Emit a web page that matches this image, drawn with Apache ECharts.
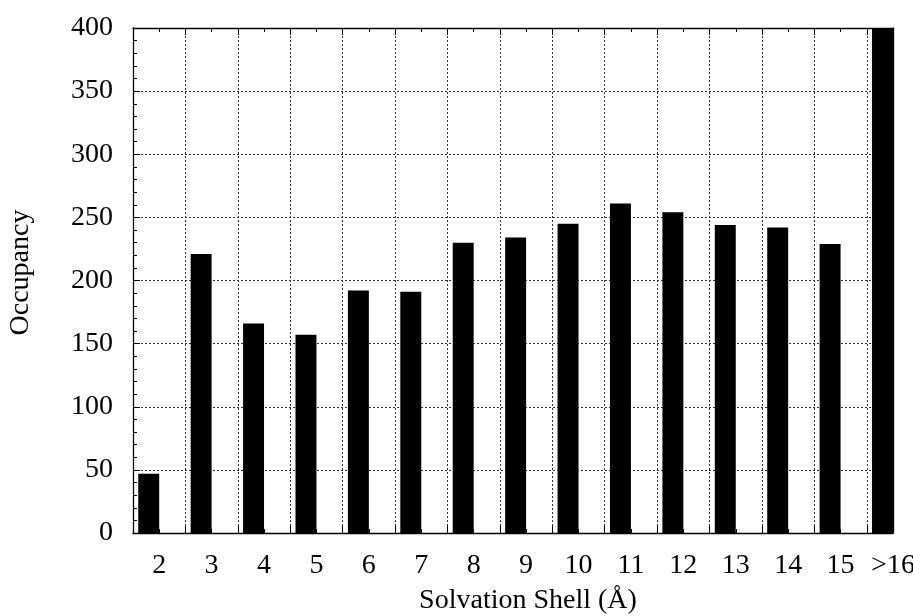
<!DOCTYPE html>
<html>
<head>
<meta charset="utf-8">
<script src="https://cdn.jsdelivr.net/npm/echarts@6/dist/echarts.min.js"></script>
<style>html,body{margin:0;padding:0;background:#fff}#c{width:913px;height:616px}</style>
</head>
<body>
<div id="c"></div>
<script>
// Data
const shellPositions = [2, 3, 4, 5, 6, 7, 8, 9, 10, 11, 12, 13, 14, 15, 16];
const shellLabels = ['2', '3', '4', '5', '6', '7', '8', '9', '10', '11', '12', '13', '14', '15', '>16'];
const occupancy = [47, 221, 166, 157, 192, 191, 230, 234, 245, 261, 254, 244, 242, 229, 400];
const yTicks = [0, 50, 100, 150, 200, 250, 300, 350, 400];

const FONT = 'Liberation Serif';
const FS = 28;
const BAR_UNITS = 0.4;

const labelMap = {};
shellPositions.forEach((p, i) => { labelMap[p] = shellLabels[i]; });

const chart = echarts.init(document.getElementById('c'), null, { renderer: 'canvas' });

const gridLine = { show: true, lineStyle: { type: [2, 2], color: '#333', width: 1 } };

const option = {
  backgroundColor: '#fff',
  animation: false,
  grid: { left: 133, right: 20, top: 28, bottom: 83, containLabel: false, outerBoundsMode: 'none' },
  xAxis: [
    {
      type: 'value', min: 1.5, max: 16, interval: 0.5, position: 'bottom',
      axisLine: { show: true, onZero: false, lineStyle: { color: '#000', width: 1.3 } },
      axisTick: { show: false },
      splitLine: { show: false },
      axisLabel: {
        show: true, margin: 19, color: '#000', fontFamily: FONT, fontSize: FS,
        showMinLabel: true, showMaxLabel: true, hideOverlap: false,
        formatter: v => (labelMap[v] !== undefined ? labelMap[v] : '')
      },
      name: 'Solvation Shell (Å)', nameLocation: 'middle', nameGap: 54,
      nameTextStyle: { color: '#000', fontFamily: FONT, fontSize: FS, padding: [0, 0, 0, 30] }
    },
    {
      type: 'value', min: 0, max: 14.5, interval: 1, position: 'bottom',
      axisLine: { show: false, onZero: false },
      axisTick: { show: true, inside: true, length: 7, lineStyle: { color: '#000', width: 1 } },
      minorTick: { show: true, splitNumber: 2, length: 4, lineStyle: { color: '#000', width: 1 } },
      splitLine: gridLine,
      axisLabel: { show: false }
    },
    {
      type: 'value', min: 0, max: 14.5, interval: 1, position: 'top',
      axisLine: { show: true, onZero: false, lineStyle: { color: '#000', width: 1.3 } },
      axisTick: { show: true, inside: true, length: 7, lineStyle: { color: '#000', width: 1 } },
      minorTick: { show: true, splitNumber: 2, length: 4, lineStyle: { color: '#000', width: 1 } },
      splitLine: { show: false },
      axisLabel: { show: false }
    }
  ],
  yAxis: [
    {
      type: 'value', min: yTicks[0], max: yTicks[yTicks.length - 1], interval: 50,
      axisLine: { show: true, onZero: false, lineStyle: { color: '#000', width: 1.3 } },
      axisTick: { show: true, inside: true, length: 7, lineStyle: { color: '#000', width: 1 } },
      minorTick: { show: true, splitNumber: 5, length: 4, lineStyle: { color: '#000', width: 1 } },
      splitLine: gridLine,
      axisLabel: { show: true, margin: 20, color: '#000', fontFamily: FONT, fontSize: FS },
      name: 'Occupancy', nameLocation: 'middle', nameGap: 98,
      nameTextStyle: { color: '#000', fontFamily: FONT, fontSize: FS, padding: [0, 0, 0, 16] }
    },
    {
      type: 'value', min: 0, max: 400, interval: 50, position: 'right',
      axisLine: { show: true, onZero: false, lineStyle: { color: '#000', width: 1.3 } },
      axisTick: { show: false },
      splitLine: { show: false },
      axisLabel: { show: false }
    }
  ],
  series: [
    {
      type: 'custom',
      xAxisIndex: 0, yAxisIndex: 0,
      clip: true,
      z: 5,
      data: shellPositions.map((p, i) => [p, occupancy[i]]),
      renderItem: function (params, api) {
        const top = api.coord([api.value(0), api.value(1)]);
        const base = api.coord([api.value(0), 0]);
        const w = api.size([BAR_UNITS, 0])[0];
        return {
          type: 'rect',
          shape: { x: top[0] - w, y: top[1], width: w, height: base[1] - top[1] },
          style: { fill: '#000' }
        };
      }
    }
  ]
};
chart.setOption(option);
</script>
</body>
</html>
